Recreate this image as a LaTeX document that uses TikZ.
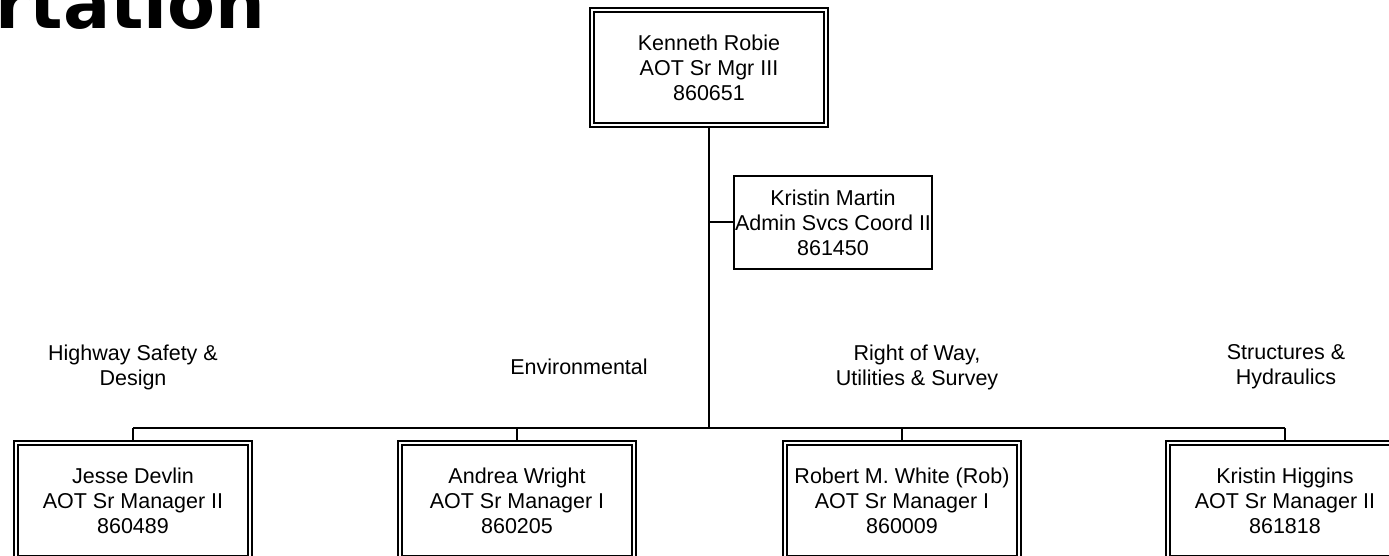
\documentclass[tikz,border=0pt]{standalone}
\usepackage{fontspec}
\setmainfont{Liberation Sans}
\newfontfamily\titlefont{DejaVu Sans}
\newcommand{\boxfont}{\fontsize{10.75}{12.5}\selectfont}
\tikzset{
    mgr/.style={draw, double, line width=0.8pt, double distance=1.2pt,
        minimum width=117.2pt, minimum height=57.7pt,
        align=center, inner sep=0pt, font=\boxfont},
    staff/.style={draw, line width=1pt, minimum width=99pt,
        minimum height=46.5pt, align=center, inner sep=0pt, font=\boxfont},
    unit/.style={align=center, inner sep=0pt, font=\boxfont},
    wire/.style={line width=1pt}
}
\begin{document}
\begin{tikzpicture}[x=0.5pt, y=-0.5pt]
    \useasboundingbox (0, 0) rectangle (1389, 556);

    \node(T) [anchor=base west, font=\titlefont\bfseries\fontsize{35}{40}\selectfont] at (-12, 29) {rtation};

    \node(K) [mgr] at (709, 67.5) {Kenneth Robie\\AOT Sr Mgr III\\860651};
    \node(M) [staff] at (833, 222.5) {Kristin Martin\\Admin Svcs Coord II\\861450};

    \node(J) [mgr] at (133, 500.5) {Jesse Devlin\\AOT Sr Manager II\\860489};
    \node(A) [mgr] at (517, 500.5) {Andrea Wright\\AOT Sr Manager I\\860205};
    \node(R) [mgr] at (902, 500.5) {Robert M. White (Rob)\\AOT Sr Manager I\\860009};
    \node(H) [mgr] at (1285, 500.5) {Kristin Higgins\\AOT Sr Manager II\\861818};

    \node(uJ) [unit] at (133, 367) {Highway Safety \&\\Design};
    \node(uA) [unit] at (579, 367) {Environmental};
    \node(uR) [unit] at (917, 367) {Right of Way,\\Utilities \& Survey};
    \node(uH) [unit] at (1286, 367) {Structures \&\\Hydraulics};

    \coordinate(B) at (709, 428);

    \draw [wire] (K) -- (B);
    \draw [wire] (M.west) -- (M.west -| K);
    \draw [wire] (B -| J) -- (B -| H);
    \draw [wire] (B -| J) -- (J);
    \draw [wire] (B -| A) -- (A);
    \draw [wire] (B -| R) -- (R);
    \draw [wire] (B -| H) -- (H);
\end{tikzpicture}
\end{document}
